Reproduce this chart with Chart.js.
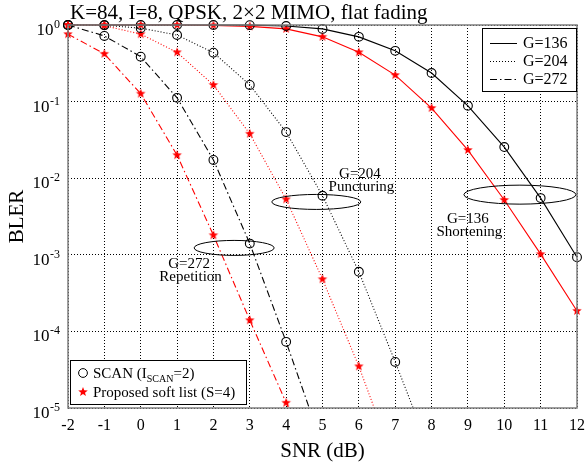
<!DOCTYPE html>
<html>
<head>
<meta charset="utf-8">
<script src="https://cdn.jsdelivr.net/npm/chart.js@4/dist/chart.umd.min.js"></script>
<style>
	html, body { margin: 0; padding: 0; background: #fff; }
</style>
</head>
<body>
<canvas id="bler" width="585" height="466"></canvas>
<script>
// SNR points (dB)
const snr = [-2, -1, 0, 1, 2, 3, 4, 5, 6, 7, 8, 9, 10, 11, 12];

// BLER (last value of a few curves lies below the axis, where the line leaves the plot)
const scan136 = [1, 1, 1, 1, 1, 0.995, 0.97, 0.89, 0.70, 0.46, 0.236, 0.088, 0.0255, 0.0055, 9.3e-4];
const list136 = [1, 1, 1, 1, 0.99, 0.96, 0.89, 0.70, 0.44, 0.222, 0.0824, 0.0233, 0.0052, 1.02e-3, 1.85e-4];
const scan204 = [1, 0.99, 0.91, 0.74, 0.435, 0.165, 0.040, 0.0059, 6.0e-4, 4.0e-5, 2.4e-6, null, null, null, null];
const list204 = [1, 0.98, 0.76, 0.44, 0.165, 0.038, 0.0053, 4.8e-4, 3.5e-5, 1.8e-6, null, null, null, null, null];
const scan272 = [1, 0.72, 0.386, 0.112, 0.0173, 1.4e-3, 7.3e-5, 3.2e-6, null, null, null, null, null, null, null];
const list272 = [0.76, 0.42, 0.127, 0.02, 1.8e-3, 1.4e-4, 1.17e-5, 1.0e-6, null, null, null, null, null, null, null];

const yExponents = [0, -1, -2, -3, -4, -5];
const groupLabels = ["G=136", "G=204", "G=272"];
const markerLabels = ["SCAN", "Proposed soft list (S=4)"];
const titleText = "K=84, I=8, QPSK, 2\u00d72 MIMO, flat fading";

const SERIF = '"Liberation Serif", "Times New Roman", serif';
const DOT = [1, 2];
const DASHDOT = [7, 3, 1.5, 3];

function starPath(ctx, cx, cy, r) {
	ctx.beginPath();
	for (let i = 0; i < 10; i++) {
		let a = -Math.PI / 2 + i * Math.PI / 5;
		let rr = (i % 2) ? r * 0.42 : r;
		ctx.lineTo(cx + rr * Math.cos(a), cy + rr * Math.sin(a));
	}
	ctx.closePath();
}

function makeStar(r, color) {
	var c = document.createElement("canvas");
	var s = Math.ceil(r * 2 + 2);
	c.width = s; c.height = s;
	var g = c.getContext("2d");
	g.fillStyle = color;
	starPath(g, s / 2, s / 2, r);
	g.fill();
	return c;
}
const redStar = makeStar(5, "#ff0000");

function series(label, values, color, dash, marker) {
	return {
		label: label,
		data: snr.map((x, i) => ({x: x, y: values[i]})),
		borderColor: color,
		borderWidth: 1.1,
		borderDash: dash,
		tension: 0,
		spanGaps: false,
		pointStyle: marker === "star" ? redStar : "circle",
		pointRadius: marker === "star" ? 5 : 4.4,
		pointBorderWidth: 1.1,
		pointBorderColor: color,
		pointBackgroundColor: "rgba(0,0,0,0)",
		clip: {left: 8, top: 8, right: 8, bottom: 0}
	};
}

// ellipses and labels, positioned in data coordinates
const notes = [
	{ex: 2.57, ey: 1.23e-3, rx: 40, ry: 7.5, tx: 1.33, ty: 6.7e-4, lines: ["G=272", "Repetition"]},
	{ex: 4.83, ey: 4.9e-3, rx: 44.5, ry: 7.5, tx: 6.03, ty: 1.0e-2, lines: ["G=204", "Puncturing"]},
	{ex: 10.43, ey: 6.1e-3, rx: 56, ry: 9.5, tx: 9.0, ty: 2.6e-3, lines: ["G=136", "Shortening"]}
];

const decorations = {
	id: "decorations",
	afterDraw(chart) {
		const ctx = chart.ctx;
		const a = chart.chartArea;
		const xs = chart.scales.x, ys = chart.scales.y;
		ctx.save();

		// frame
		ctx.strokeStyle = "#7f7f7f";
		ctx.lineWidth = 1.5;
		ctx.setLineDash([]);
		ctx.strokeRect(a.left, a.top, a.right - a.left, a.bottom - a.top);

		ctx.fillStyle = "#000";
		// x tick labels
		ctx.font = "16px " + SERIF;
		ctx.textAlign = "center";
		ctx.textBaseline = "alphabetic";
		snr.forEach(v => ctx.fillText(String(v), xs.getPixelForValue(v), a.bottom + 22));

		// y tick labels 10^e
		yExponents.forEach(e => {
			const y = ys.getPixelForValue(Math.pow(10, e));
			ctx.font = "12px " + SERIF;
			ctx.textAlign = "left";
			const w = ctx.measureText(String(e)).width;
			const sx = a.left - 8 - w;
			ctx.fillText(String(e), sx, y + 3);
			ctx.font = "17px " + SERIF;
			ctx.textAlign = "right";
			ctx.fillText("10", sx - 0.5, y + 10);
		});

		// axis titles
		ctx.font = "21px " + SERIF;
		ctx.textAlign = "center";
		ctx.fillText("SNR (dB)", (a.left + a.right) / 2, 457);
		ctx.save();
		ctx.translate(23, (a.top + a.bottom) / 2);
		ctx.rotate(-Math.PI / 2);
		ctx.fillText("BLER", 0, 0);
		ctx.restore();

		// title
		ctx.font = "21px " + SERIF;
		ctx.textAlign = "left";
		ctx.fillText(titleText, 70, 19);

		// annotations
		ctx.strokeStyle = "#000";
		ctx.lineWidth = 1;
		ctx.font = "15px " + SERIF;
		ctx.textAlign = "center";
		notes.forEach(n => {
			ctx.beginPath();
			ctx.ellipse(xs.getPixelForValue(n.ex), ys.getPixelForValue(n.ey), n.rx, n.ry, 0, 0, Math.PI * 2);
			ctx.stroke();
			const tx = xs.getPixelForValue(n.tx), ty = ys.getPixelForValue(n.ty);
			n.lines.forEach((t, i) => ctx.fillText(t, tx + i * 1.5, ty + i * 13));
		});

		// legend for group sizes (top right)
		const bx = 482, by = 28, bw = 94, bh = 63;
		ctx.fillStyle = "#fff";
		ctx.fillRect(bx, by, bw, bh);
		ctx.strokeStyle = "#000";
		ctx.strokeRect(bx + 0.5, by + 0.5, bw, bh);
		const dashes = [[], DOT, DASHDOT];
		ctx.font = "16px " + SERIF;
		ctx.textAlign = "left";
		ctx.textBaseline = "middle";
		groupLabels.forEach((t, i) => {
			const y = by + 15 + i * 18;
			ctx.setLineDash(dashes[i]);
			ctx.beginPath();
			ctx.moveTo(bx + 8, y + 0.5);
			ctx.lineTo(bx + 35, y + 0.5);
			ctx.stroke();
			ctx.setLineDash([]);
			ctx.fillStyle = "#000";
			ctx.fillText(t, bx + 41, y + 1);
		});

		// legend for decoders (bottom left)
		const lx = 70, ly = 360, lw = 176, lh = 44;
		ctx.fillStyle = "#fff";
		ctx.fillRect(lx, ly, lw, lh);
		ctx.strokeStyle = "#000";
		ctx.strokeRect(lx + 0.5, ly + 0.5, lw, lh);
		ctx.beginPath();
		ctx.arc(lx + 13, ly + 13, 4.4, 0, Math.PI * 2);
		ctx.stroke();
		ctx.fillStyle = "#ff0000";
		starPath(ctx, lx + 13, ly + 32, 5);
		ctx.fill();
		ctx.fillStyle = "#000";
		ctx.textBaseline = "alphabetic";
		ctx.font = "15px " + SERIF;
		let x = lx + 23;
		ctx.fillText(markerLabels[0] + " (I", x, ly + 18);
		x += ctx.measureText(markerLabels[0] + " (I").width;
		ctx.font = "10px " + SERIF;
		ctx.fillText("SCAN", x, ly + 22);
		x += ctx.measureText("SCAN").width;
		ctx.font = "15px " + SERIF;
		ctx.fillText("=2)", x, ly + 18);
		ctx.fillText(markerLabels[1], lx + 23, ly + 37);

		ctx.restore();
	}
};

new Chart(document.getElementById("bler"), {
	type: "line",
	data: {
		datasets: [
			series("G=136 SCAN", scan136, "#000000", [], "circle"),
			series("G=136 list", list136, "#ff0000", [], "star"),
			series("G=204 SCAN", scan204, "#000000", DOT, "circle"),
			series("G=204 list", list204, "#ff0000", DOT, "star"),
			series("G=272 SCAN", scan272, "#000000", DASHDOT, "circle"),
			series("G=272 list", list272, "#ff0000", DASHDOT, "star")
		]
	},
	options: {
		responsive: false,
		animation: false,
		layout: {padding: {left: 68, right: 8, top: 25, bottom: 58}},
		plugins: {legend: {display: false}, tooltip: {enabled: false}, title: {display: false}},
		scales: {
			x: {
				type: "linear",
				min: -2,
				max: 12,
				ticks: {display: false, stepSize: 1},
				grid: {color: "#000", lineWidth: 1, drawTicks: false},
				border: {display: false, dash: DOT}
			},
			y: {
				type: "logarithmic",
				min: 1e-5,
				max: 1,
				afterBuildTicks: axis => {
					axis.ticks = yExponents.map(e => ({value: Math.pow(10, e)}));
				},
				ticks: {display: false},
				grid: {color: "#000", lineWidth: 1, drawTicks: false},
				border: {display: false, dash: DOT}
			}
		}
	},
	plugins: [decorations]
});
</script>
</body>
</html>
